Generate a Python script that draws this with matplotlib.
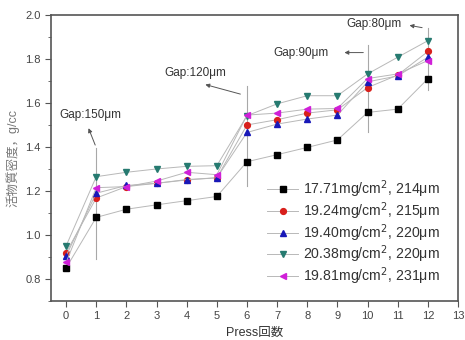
import numpy as np
import matplotlib
matplotlib.use("Agg")
import matplotlib.pyplot as plt
from matplotlib.ticker import MultipleLocator

plt.rcParams['font.family'] = ['Liberation Sans', 'Noto Sans CJK JP', 'DejaVu Sans']

press = [0, 1, 2, 3, 4, 5, 6, 7, 8, 9, 10, 11, 12]

s1 = [0.85, 1.08, 1.117, 1.137, 1.156, 1.175, 1.333, 1.365, 1.398, 1.432, 1.557, 1.572, 1.71]
s2 = [0.92, 1.168, 1.22, 1.235, 1.25, 1.26, 1.50, 1.524, 1.554, 1.569, 1.67, 1.727, 1.834]
s3 = [0.905, 1.19, 1.225, 1.235, 1.252, 1.26, 1.466, 1.504, 1.527, 1.545, 1.696, 1.723, 1.808]
s4 = [0.95, 1.265, 1.285, 1.30, 1.312, 1.315, 1.542, 1.596, 1.633, 1.633, 1.732, 1.808, 1.883]
s5 = [0.875, 1.215, 1.22, 1.245, 1.285, 1.274, 1.545, 1.554, 1.572, 1.575, 1.711, 1.732, 1.793]

labels = ['17.71mg/cm$^2$, 214\u03bcm', '19.24mg/cm$^2$, 215\u03bcm',
          '19.40mg/cm$^2$, 220\u03bcm', '20.38mg/cm$^2$, 220\u03bcm',
          '19.81mg/cm$^2$, 231\u03bcm']
markers = ['s', 'o', '^', 'v', '<']
colors = ['black', '#d8201c', '#1818b8', '#267a70', '#d020d8']

# gap markers: press position, top, bottom of the vertical line
gap_x = [1, 6, 10, 12]
gap_top = [1.397, 1.678, 1.864, 1.94]
gap_bot = [0.889, 1.224, 1.47, 1.657]
gap_text = ['Gap:150\u03bcm', 'Gap:120\u03bcm', 'Gap:90\u03bcm', 'Gap:80\u03bcm']

fig = plt.figure(figsize=(4.65, 3.4), dpi=100)
ax = fig.add_axes([0.1097, 0.1147, 0.8753, 0.8413])

for ys, m, c, lab in zip([s1, s2, s3, s4, s5], markers, colors, labels):
    ax.plot(press, ys, color='#b8b8b8', lw=0.7, marker=m, markersize=4.2,
            markerfacecolor=c, markeredgecolor=c, label=lab, zorder=3)

for gx, t, b in zip(gap_x, gap_top, gap_bot):
    ax.plot([gx, gx], [b, t], color='#a8a8a8', lw=0.8, zorder=2)

arr = dict(arrowstyle='-|>', color='#555555', lw=0.7, mutation_scale=6)
ax.annotate('', xy=(0.71, 1.497), xytext=(1.0, 1.397), arrowprops=arr)
ax.text(-0.22, 1.546, gap_text[0], fontsize=8.5, color='#333333', ha='left', va='center')
ax.annotate('', xy=(4.53, 1.687), xytext=(5.87, 1.637), arrowprops=arr)
ax.text(3.27, 1.738, gap_text[1], fontsize=8.5, color='#333333', ha='left', va='center')
ax.annotate('', xy=(9.14, 1.829), xytext=(9.95, 1.829), arrowprops=arr)
ax.text(6.86, 1.829, gap_text[2], fontsize=8.5, color='#333333', ha='left', va='center')
ax.annotate('', xy=(11.3, 1.955), xytext=(11.9, 1.94), arrowprops=arr)
ax.text(9.31, 1.957, gap_text[3], fontsize=8.5, color='#333333', ha='left', va='center')

ax.set_xlim(-0.5, 13)
ax.set_ylim(0.7, 2.0)
ax.xaxis.set_major_locator(MultipleLocator(1))
ax.yaxis.set_major_locator(MultipleLocator(0.2))
ax.yaxis.set_minor_locator(MultipleLocator(0.1))
ax.tick_params(which='both', direction='out', colors='#555555', labelcolor='#444444',
               labelsize=8, top=False, right=False)
ax.tick_params(which='major', length=4)
ax.tick_params(which='minor', length=2.5)
for sp in ax.spines.values():
    sp.set_color('#555555')
    sp.set_linewidth(1.2)

ax.set_xlabel('Press回数', fontsize=9, color='#333333', labelpad=4)
ax.set_ylabel('活物質密度，g/cc', fontsize=9, color='#777777', labelpad=4)

leg = ax.legend(loc='lower right', frameon=False, fontsize=10.2, handlelength=2.2,
                labelspacing=0.0, handletextpad=0.3, borderaxespad=0.2,
                bbox_to_anchor=(0.975, 0.02))
for t in leg.get_texts():
    t.set_color('#333333')

fig.savefig('out.png', dpi=100)
